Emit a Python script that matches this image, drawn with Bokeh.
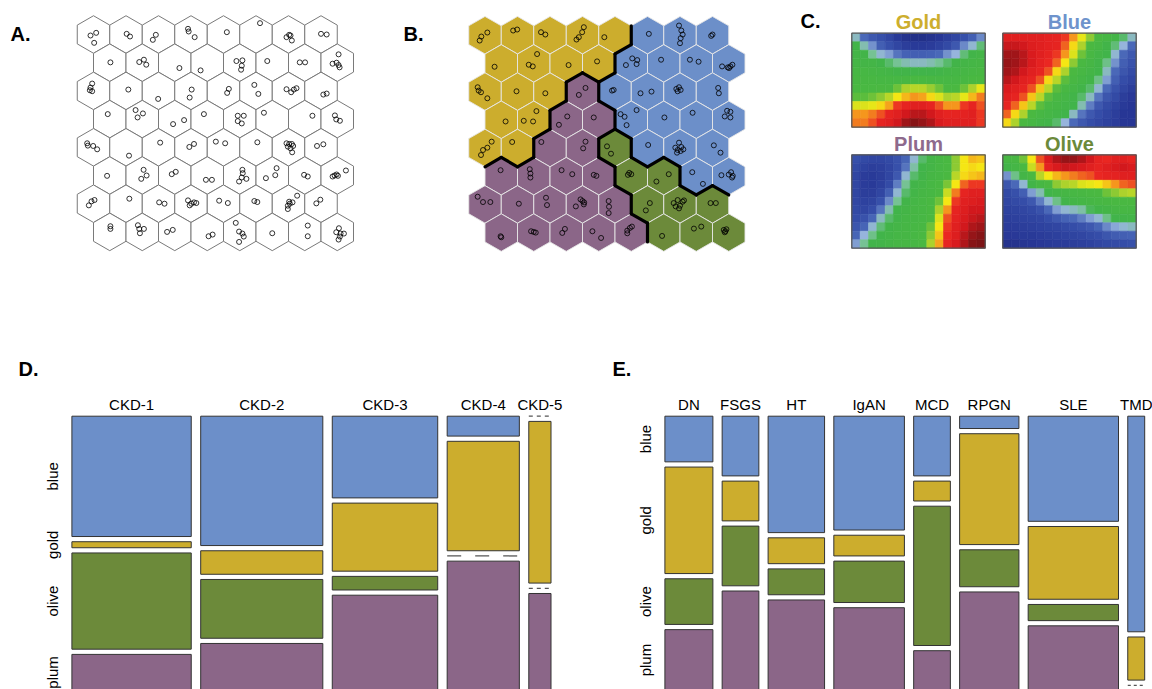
import math
import numpy as np
from bokeh.plotting import figure
from bokeh.models import Range1d, ColumnDataSource
from bokeh.transform import linear_cmap
from bokeh.core.properties import value
from bokeh.embed import file_html
from bokeh.resources import INLINE

FONT = value("Liberation Sans")

# ------------------------------------------------------------------ data
# SOM: 8 x 8 hexagonal grid, rows listed from the top
som_rows = 8
som_cols = 8

# cluster of each SOM unit (panel B); G gold, B blue, P plum, O olive
cluster_rows = [
    "GGGGGBBB",
    "GGGGBBBB",
    "GGGPBBBB",
    "GGPPBBBB",
    "GGPPOBBB",
    "PPPPOOBB",
    "PPPPPOOO",
    "PPPPPOOO",
]

# samples mapped on the SOM: (row, col, dx, dy); dx in 1/97.5 hex width, dy in 1/84.5 row
som_a_points = [
    (0,0,-9,3),(0,0,8,-5),(0,0,2,25),(0,1,2,-2),(0,1,12,6),(0,2,-8,1),(0,2,-17,16),
    (0,3,-9,-17),(0,3,-7,-9),(0,3,11,8),(0,4,10,-7),(0,5,12,-34),
    (0,6,2,1),(0,6,6,3),(0,6,-6,8),(0,6,10,18),(0,7,0,-2),(0,7,17,0),
    (1,0,2,-1),(1,1,-9,-2),(1,1,5,-9),(1,1,12,6),(1,2,14,16),(1,3,-20,23),
    (1,4,-10,-5),(1,4,8,-7),(1,4,6,9),(1,4,4,21),(1,5,-15,-5),(1,6,-15,-1),(1,6,1,-1),
    (1,7,4,-25),(1,7,-14,3),(1,7,-2,0),(1,7,4,7),(1,7,7,14),
    (2,0,-4,-22),(2,0,-9,-10),(2,0,-11,-2),(2,0,-4,1),(2,1,7,-4),(2,2,-1,24),
    (2,3,2,-4),(2,3,-4,20),(2,4,16,-6),(2,4,11,6),(2,5,-5,-18),(2,5,7,9),
    (2,6,-6,-5),(2,6,8,4),(2,6,16,-4),(2,6,24,-8),(2,7,7,11),(2,7,17,8),
    (3,0,-6,-15),(3,1,-20,-27),(3,1,2,-17),(3,1,-14,-5),(3,2,-5,15),(3,2,28,3),
    (3,3,-10,-15),(3,4,-6,-10),(3,4,12,-10),(3,4,-6,6),(3,4,6,13),(3,5,-25,-19),
    (3,6,23,-10),(3,7,-7,-11),(3,7,-3,1),(3,7,8,5),
    (4,0,-19,-12),(4,0,-17,-5),(4,0,-1,-4),(4,0,11,6),(4,1,9,25),(4,2,5,-14),
    (4,3,-5,-1),(4,3,9,-10),(4,4,-23,-17),(4,4,5,-12),(4,5,4,-15),
    (4,6,-6,-12),(4,6,2,-10),(4,6,10,-10),(4,6,-2,-2),(4,6,6,3),(4,6,14,-4),(4,6,11,15),
    (4,7,-12,-4),(4,7,7,-9),
    (5,0,-8,1),(5,1,4,-17),(5,1,13,0),(5,1,-3,10),(5,2,-9,-4),(5,2,3,-11),
    (5,3,-4,13),(5,3,14,13),(5,4,8,-17),(5,4,9,-7),(5,4,6,6),(5,4,-2,18),(5,4,20,10),
    (5,5,13,-22),(5,5,9,-1),(5,5,-19,8),(5,6,-2,-2),(5,6,9,3),
    (5,7,-14,3),(5,7,-8,0),(5,7,-2,-3),(5,7,2,1),(5,7,26,-15),
    (6,0,-6,-7),(6,0,3,-11),(6,0,-14,5),(6,1,10,-15),(6,2,2,-4),(6,2,18,0),
    (6,3,-9,-10),(6,3,1,0),(6,3,9,-4),(6,3,16,-2),(6,3,-4,5),(6,4,-13,-9),(6,4,13,-2),
    (6,5,-5,-8),(6,5,4,-5),(6,6,26,-24),(6,6,12,-4),(6,6,4,0),(6,6,-2,6),(6,6,-2,16),(6,6,2,-6),
    (6,7,-2,-12),(6,7,-14,-1),
    (7,0,2,-17),(7,0,2,-9),(7,1,-13,-20),(7,1,-9,-9),(7,1,5,-9),(7,1,-7,4),
    (7,2,-23,0),(7,2,-6,-6),(7,3,4,13),(7,3,16,8),
    (7,4,-12,-27),(7,4,-2,-1),(7,4,8,5),(7,4,12,14),(7,4,-2,30),(7,5,0,4),
    (7,6,9,-19),(7,6,9,13),(7,7,5,-11),(7,7,-3,1),(7,7,10,5),(7,7,20,5),(7,7,8,14),(7,7,4,23),
]

som_b_points = [
    (0,0,-16,16),(0,0,-11,4),(0,0,7,-8),(0,1,-13,-14),(0,1,-1,-17),(0,2,-27,-9),(0,2,-14,-2),
    (0,3,4,-24),(0,3,-1,-9),(0,3,-11,6),(0,3,-18,13),(0,4,-32,6),(0,5,4,-4),
    (0,6,-3,-29),(0,6,4,-14),(0,6,8,-2),(0,6,2,9),(0,6,0,24),(0,7,0,-2),(0,7,-4,2),
    (1,0,-20,10),(1,1,-15,4),(1,1,-3,9),(1,1,10,-28),(1,2,7,5),(1,3,-5,-6),
    (1,4,-16,5),(1,4,3,-15),(1,4,18,-10),(1,4,16,2),(1,5,-8,-11),(1,6,-19,-11),(1,6,7,-5),
    (1,7,-20,9),(1,7,-3,12),(1,7,5,9),(1,7,11,4),(1,7,1,14),
    (2,0,-22,-13),(2,0,-19,-3),(2,0,-12,2),(2,0,7,20),(2,1,-3,-1),(2,2,-14,5),
    (2,3,-11,10),(2,3,9,-11),(2,4,-9,-3),(2,4,-4,-5),(2,5,-21,5),(2,5,12,0),
    (2,6,-11,-8),(2,6,-3,-13),(2,6,-7,-1),(2,6,2,-5),(2,7,17,-11),(2,7,19,5),
    (3,0,13,5),(3,1,8,-26),(3,1,-30,3),(3,1,-2,5),(3,2,3,-10),(3,2,-22,15),(3,3,-15,-7),
    (3,4,-32,-17),(3,4,-20,-9),(3,4,-14,16),(3,4,16,-29),(3,5,2,-7),(3,6,-11,-21),
    (3,7,-5,-27),(3,7,5,-24),(3,7,-12,-10),(3,7,5,-7),
    (4,0,-12,21),(4,0,-6,6),(4,0,7,-1),(4,0,20,-19),(4,1,-16,-18),(4,2,-26,-18),
    (4,3,9,-19),(4,3,2,1),(4,4,-24,-5),(4,4,-12,17),(4,5,2,-9),
    (4,6,-14,-1),(4,6,-7,6),(4,6,2,9),(4,6,10,4),(4,6,4,-3),(4,6,-9,14),(4,6,-3,-16),
    (4,7,4,-8),(4,7,24,14),
    (5,0,-2,-18),(5,1,-12,-21),(5,1,-10,-8),(5,1,-10,4),(5,2,-14,-18),(5,2,18,-6),
    (5,3,-15,-4),(5,3,-7,-1),(5,4,-6,-10),(5,4,-10,-4),(5,4,0,-6),(5,5,15,-6),(5,5,-22,16),
    (5,6,-12,-12),(5,6,20,23),(5,7,-22,-3),(5,7,0,-5),(5,7,7,-12),(5,7,12,-1),(5,7,10,4),
    (6,0,-22,-23),(6,0,-6,-7),(6,0,16,-7),(6,1,4,-2),(6,2,-12,-20),(6,2,-9,2),
    (6,3,-6,-15),(6,3,0,-10),(6,3,5,-6),(6,3,-20,6),(6,3,4,0),
    (6,4,-19,-10),(6,4,-18,7),(6,4,-19,26),(6,5,7,-4),(6,5,-5,18),
    (6,6,-19,-4),(6,6,-7,-13),(6,6,8,-8),(6,6,0,4),(6,6,-13,6),(6,6,12,-12),(6,6,-3,12),
    (6,7,-6,-4),(6,7,10,-4),
    (7,0,-2,11),(7,0,0,14),(7,1,-8,-4),(7,1,0,-2),(7,1,6,0),(7,2,-4,-11),(7,2,-12,1),
    (7,3,-19,-4),(7,3,7,16),(7,4,-12,-6),(7,4,-4,-14),(7,4,2,-18),(7,4,-12,2),
    (7,5,-5,10),(7,6,-7,-12),(7,6,15,-18),
    (7,7,-15,-8),(7,7,-10,-4),(7,7,-7,-10),(7,7,-12,-1),
]

# component planes (panel C), 11 rows (top first) x 16 columns, scaled 0..1
plane_titles = ["Gold", "Blue", "Plum", "Olive"]
gold_plane = [
    [0.42,0.33,0.28,0.25,0.20,0.14,0.10,0.08,0.08,0.10,0.12,0.16,0.20,0.25,0.30,0.36],
    [0.52,0.43,0.37,0.30,0.25,0.20,0.16,0.14,0.14,0.15,0.18,0.22,0.28,0.36,0.41,0.47],
    [0.55,0.52,0.45,0.41,0.38,0.34,0.31,0.30,0.30,0.31,0.33,0.37,0.40,0.47,0.52,0.55],
    [0.57,0.56,0.55,0.50,0.48,0.45,0.43,0.42,0.42,0.43,0.45,0.48,0.52,0.55,0.57,0.58],
    [0.60,0.60,0.58,0.57,0.55,0.53,0.52,0.50,0.50,0.51,0.52,0.55,0.57,0.58,0.60,0.62],
    [0.62,0.62,0.62,0.61,0.60,0.60,0.62,0.63,0.63,0.62,0.60,0.60,0.60,0.62,0.64,0.66],
    [0.64,0.64,0.64,0.65,0.66,0.68,0.72,0.73,0.73,0.71,0.68,0.66,0.66,0.68,0.72,0.76],
    [0.67,0.67,0.68,0.70,0.73,0.77,0.80,0.82,0.81,0.78,0.75,0.72,0.73,0.76,0.80,0.83],
    [0.75,0.75,0.76,0.78,0.81,0.86,0.88,0.90,0.90,0.88,0.85,0.82,0.82,0.86,0.88,0.85],
    [0.82,0.82,0.83,0.85,0.88,0.90,0.93,0.95,0.95,0.93,0.90,0.88,0.88,0.89,0.90,0.86],
    [0.83,0.83,0.85,0.88,0.90,0.93,0.97,0.99,0.98,0.96,0.92,0.90,0.90,0.90,0.90,0.86],
]
blue_plane = [
    [0.90,0.90,0.90,0.90,0.90,0.89,0.88,0.86,0.82,0.76,0.70,0.65,0.60,0.55,0.48,0.42],
    [0.94,0.94,0.93,0.91,0.90,0.89,0.88,0.84,0.78,0.72,0.66,0.60,0.53,0.47,0.40,0.33],
    [0.97,0.97,0.95,0.92,0.90,0.88,0.86,0.82,0.75,0.68,0.62,0.56,0.50,0.41,0.33,0.28],
    [0.98,0.97,0.95,0.92,0.89,0.87,0.84,0.77,0.70,0.64,0.58,0.53,0.46,0.37,0.30,0.26],
    [0.97,0.96,0.93,0.90,0.88,0.85,0.78,0.72,0.66,0.60,0.55,0.50,0.42,0.33,0.27,0.23],
    [0.95,0.93,0.90,0.88,0.85,0.78,0.73,0.67,0.62,0.57,0.52,0.46,0.38,0.30,0.24,0.20],
    [0.92,0.90,0.88,0.85,0.79,0.73,0.67,0.62,0.57,0.53,0.48,0.41,0.33,0.26,0.20,0.16],
    [0.90,0.88,0.85,0.79,0.73,0.67,0.62,0.57,0.53,0.48,0.42,0.34,0.27,0.22,0.16,0.13],
    [0.88,0.84,0.79,0.73,0.67,0.62,0.58,0.54,0.50,0.43,0.35,0.28,0.23,0.18,0.14,0.12],
    [0.84,0.78,0.72,0.66,0.61,0.57,0.54,0.50,0.42,0.34,0.28,0.24,0.20,0.16,0.12,0.12],
    [0.78,0.72,0.66,0.60,0.56,0.53,0.48,0.40,0.33,0.28,0.24,0.21,0.18,0.15,0.12,0.12],
]
plum_plane = [
    [0.25,0.22,0.20,0.20,0.22,0.26,0.32,0.41,0.48,0.55,0.60,0.64,0.70,0.77,0.80,0.79],
    [0.22,0.18,0.16,0.17,0.20,0.25,0.34,0.44,0.50,0.56,0.60,0.64,0.70,0.77,0.78,0.77],
    [0.20,0.15,0.14,0.16,0.20,0.28,0.41,0.48,0.53,0.58,0.61,0.65,0.73,0.78,0.79,0.80],
    [0.20,0.15,0.14,0.17,0.23,0.35,0.45,0.52,0.56,0.60,0.63,0.69,0.77,0.84,0.86,0.86],
    [0.20,0.16,0.16,0.20,0.30,0.41,0.48,0.54,0.58,0.61,0.66,0.74,0.83,0.88,0.90,0.90],
    [0.21,0.18,0.19,0.25,0.36,0.45,0.52,0.57,0.60,0.63,0.68,0.77,0.86,0.90,0.91,0.92],
    [0.22,0.20,0.24,0.34,0.43,0.50,0.55,0.58,0.60,0.64,0.72,0.82,0.88,0.91,0.93,0.93],
    [0.24,0.26,0.32,0.42,0.48,0.53,0.57,0.59,0.61,0.66,0.75,0.85,0.89,0.92,0.94,0.95],
    [0.27,0.32,0.41,0.47,0.52,0.55,0.58,0.60,0.62,0.68,0.77,0.86,0.90,0.93,0.96,0.97],
    [0.32,0.40,0.46,0.51,0.54,0.57,0.59,0.60,0.63,0.70,0.79,0.87,0.91,0.95,0.98,0.99],
    [0.38,0.45,0.50,0.53,0.56,0.58,0.60,0.61,0.64,0.72,0.81,0.88,0.92,0.96,0.99,1.00],
]
olive_plane = [
    [0.60,0.62,0.68,0.77,0.85,0.92,0.96,0.98,0.98,0.96,0.93,0.88,0.87,0.90,0.90,0.88],
    [0.52,0.57,0.63,0.74,0.82,0.89,0.92,0.94,0.93,0.92,0.90,0.88,0.90,0.92,0.93,0.92],
    [0.37,0.46,0.55,0.64,0.73,0.77,0.80,0.82,0.83,0.84,0.85,0.87,0.88,0.89,0.90,0.90],
    [0.27,0.33,0.41,0.52,0.60,0.66,0.70,0.72,0.73,0.75,0.76,0.77,0.79,0.82,0.84,0.85],
    [0.22,0.25,0.30,0.38,0.43,0.50,0.55,0.58,0.60,0.62,0.63,0.66,0.68,0.70,0.72,0.73],
    [0.20,0.22,0.24,0.28,0.35,0.41,0.46,0.52,0.55,0.57,0.58,0.60,0.62,0.63,0.64,0.66],
    [0.18,0.19,0.20,0.22,0.26,0.33,0.38,0.41,0.42,0.44,0.49,0.53,0.56,0.58,0.60,0.60],
    [0.16,0.17,0.18,0.19,0.20,0.24,0.28,0.31,0.33,0.35,0.38,0.41,0.46,0.50,0.53,0.54],
    [0.15,0.15,0.16,0.17,0.18,0.19,0.20,0.22,0.24,0.26,0.28,0.32,0.36,0.39,0.41,0.42],
    [0.13,0.13,0.14,0.14,0.15,0.16,0.17,0.18,0.19,0.20,0.22,0.24,0.27,0.29,0.30,0.31],
    [0.10,0.10,0.11,0.12,0.13,0.14,0.15,0.15,0.16,0.17,0.18,0.20,0.22,0.23,0.24,0.25],
]

# mosaic D: CKD stage x cluster (counts)
ckd_stages = ["CKD-1", "CKD-2", "CKD-3", "CKD-4", "CKD-5"]
ckd_blue = [20, 22, 12, 2, 0]
ckd_gold = [1, 4, 10, 11, 5]
ckd_olive = [16, 10, 2, 0, 0]
ckd_plum = [6, 8, 14, 13, 3]

# mosaic E: diagnosis x cluster (counts)
diagnoses = ["DN", "FSGS", "HT", "IgAN", "MCD", "RPGN", "SLE", "TMD"]
dx_blue = [3, 3, 9, 11, 3, 1, 13, 5]
dx_gold = [7, 2, 2, 2, 1, 9, 9, 1]
dx_olive = [3, 3, 2, 4, 7, 3, 2, 0]
dx_plum = [4, 5, 7, 8, 2, 8, 8, 0]

cluster_names = ["blue", "gold", "olive", "plum"]

# ------------------------------------------------------------------ styles
COL = {"blue": "#6C8FC9", "gold": "#CCAD2D", "olive": "#6C8A3A", "plum": "#8B6688"}
CODE = {"B": "blue", "G": "gold", "O": "olive", "P": "plum"}
TITLE_COL = {"Gold": "#CDAE2D", "Blue": "#6E93CC", "Plum": "#8E6A8C", "Olive": "#6C8A3A"}

anchors = [
    (0.00, (25, 35, 110)), (0.12, (40, 55, 150)), (0.25, (55, 80, 170)),
    (0.33, (75, 105, 185)), (0.40, (150, 180, 220)), (0.45, (120, 195, 150)),
    (0.50, (65, 180, 75)), (0.66, (75, 185, 65)), (0.72, (170, 210, 45)),
    (0.77, (245, 235, 20)), (0.82, (245, 150, 30)), (0.87, (235, 40, 35)),
    (0.93, (215, 25, 30)), (1.00, (125, 20, 22)),
]
pos = np.linspace(0, 1, 256)
ap = [a[0] for a in anchors]
chans = [np.interp(pos, ap, [a[1][k] for a in anchors]) for k in range(3)]
PALETTE = ["#%02x%02x%02x" % (int(r), int(g), int(b)) for r, g, b in zip(*chans)]

# ------------------------------------------------------------------ figure
W, H = 1152, 689
p = figure(width=W, height=H, x_range=Range1d(0, W), y_range=Range1d(H, 0),
           output_backend="svg", toolbar_location=None,
           x_axis_location=None, y_axis_location=None, min_border=0)
p.grid.visible = False
p.outline_line_color = None
p.background_fill_color = "white"

HEX_W = 32.5
HEX_R = HEX_W / math.sqrt(3)
ROW_SP = 28.2


def hex_center(x0, y0, r, c):
    return x0 + HEX_W * (c + 0.5 * (r % 2)), y0 + ROW_SP * r


def hex_grid(x0, y0, fills, line_color, line_width):
    xs, ys = [], []
    for r in range(som_rows):
        for c in range(som_cols):
            cx, cy = hex_center(x0, y0, r, c)
            xs.append([cx, cx + HEX_W / 2, cx + HEX_W / 2, cx, cx - HEX_W / 2, cx - HEX_W / 2])
            ys.append([cy - HEX_R, cy - HEX_R / 2, cy + HEX_R / 2, cy + HEX_R, cy + HEX_R / 2, cy - HEX_R / 2])
    p.patches(xs=xs, ys=ys, fill_color=fills, line_color=line_color, line_width=line_width)


def som_points(x0, y0, pts):
    xs = [hex_center(x0, y0, r, c)[0] + dx * HEX_W / 97.5 for r, c, dx, dy in pts]
    ys = [hex_center(x0, y0, r, c)[1] + dy * ROW_SP / 84.5 for r, c, dx, dy in pts]
    p.scatter(xs, ys, marker="circle", size=5, fill_color=None, line_color="black", line_width=0.8)


def label(x, y, t, size, color="black", bold=False, align="left", angle=0.0):
    # y is the vertical centre of the text
    p.text(x=[x], y=[y], text=[t], text_font=FONT, text_font_size=size,
           text_font_style="bold" if bold else "normal", text_color=color,
           text_align=align, text_baseline="middle", angle=angle)


# ---- panel A
A_X0, A_Y0 = 93.0, 34.0
hex_grid(A_X0, A_Y0, ["white"] * (som_rows * som_cols), "#7a7a7a", 1.0)
som_points(A_X0, A_Y0, som_a_points)
label(10, 33.5, "A.", "20px", bold=True)

# ---- panel B
B_X0, B_Y0 = 484.5, 34.7
fills = [COL[CODE[ch]] for row in cluster_rows for ch in row]
hex_grid(B_X0, B_Y0, fills, "#e6e6e6", 0.9)
som_points(B_X0, B_Y0, som_b_points)
ex0, ey0, ex1, ey1 = [], [], [], []
for r in range(som_rows):
    for c in range(som_cols):
        cx, cy = hex_center(B_X0, B_Y0, r, c)
        k = cluster_rows[r][c]
        if c + 1 < som_cols and cluster_rows[r][c + 1] != k:
            ex0.append(cx + HEX_W / 2); ey0.append(cy - HEX_R / 2)
            ex1.append(cx + HEX_W / 2); ey1.append(cy + HEX_R / 2)
        if r + 1 < som_rows:
            dl, dr = (c - 1, c) if r % 2 == 0 else (c, c + 1)
            if 0 <= dr < som_cols and cluster_rows[r + 1][dr] != k:
                ex0.append(cx + HEX_W / 2); ey0.append(cy + HEX_R / 2)
                ex1.append(cx); ey1.append(cy + HEX_R)
            if 0 <= dl < som_cols and cluster_rows[r + 1][dl] != k:
                ex0.append(cx); ey0.append(cy + HEX_R)
                ex1.append(cx - HEX_W / 2); ey1.append(cy + HEX_R / 2)
p.segment(x0=ex0, y0=ey0, x1=ex1, y1=ey1, line_color="black", line_width=3.2, line_cap="round")
label(403, 33.5, "B.", "20px", bold=True)

# ---- panel C
label(800, 20, "C.", "20px", bold=True)
planes = [gold_plane, blue_plane, plum_plane, olive_plane]
boxes = [(851.3, 984.7, 32.7, 126.7), (1002.3, 1135.7, 32.7, 126.7),
         (851.3, 984.7, 154.3, 247.7), (1002.3, 1135.7, 154.3, 247.7)]
title_mid = [21.7, 21.7, 143.3, 143.3]
for plane, (l, rgt, t, b), name, tm in zip(planes, boxes, plane_titles, title_mid):
    arr = np.array(plane)
    nr, nc = arr.shape
    cw, ch = (rgt - l) / nc, (b - t) / nr
    src = ColumnDataSource(dict(
        left=[l + j * cw for i in range(nr) for j in range(nc)],
        right=[l + (j + 1) * cw for i in range(nr) for j in range(nc)],
        top=[t + i * ch for i in range(nr) for j in range(nc)],
        bottom=[t + (i + 1) * ch for i in range(nr) for j in range(nc)],
        v=[arr[i, j] for i in range(nr) for j in range(nc)],
    ))
    cmap = linear_cmap("v", PALETTE, 0, 1)
    p.quad(left="left", right="right", top="top", bottom="bottom", source=src,
           fill_color=cmap, line_color=cmap, line_width=0.6)
    p.quad(left=[l], right=[rgt], top=[t], bottom=[b], fill_color=None,
           line_color="#555555", line_width=1.3)
    label((l + rgt) / 2, tm, name, "20px", color=TITLE_COL[name], bold=True, align="center")


# ---- mosaics
def mosaic(cols, counts, L, R, T, B, gx, gy, ylab_x):
    totals = [sum(cnt[i] for cnt in counts) for i in range(len(cols))]
    N = sum(totals)
    avail_w = R - L - gx * (len(cols) - 1)
    avail_h = B - T - gy * (len(counts) - 1)
    x = L
    for i, name in enumerate(cols):
        w = avail_w * totals[i] / N
        y = T
        dash = "%d %d" % (round(w / 5), round(w / 5))
        for j, cname in enumerate(cluster_names):
            h = avail_h * counts[j][i] / totals[i]
            if counts[j][i] > 0:
                p.quad(left=[x], right=[x + w], top=[y], bottom=[y + h],
                       fill_color=COL[cname], line_color="#333333", line_width=1.0)
            else:
                p.segment(x0=[x], y0=[y], x1=[x + w], y1=[y], line_color="#555555",
                          line_width=1.3, line_dash=dash)
            if i == 0:
                label(ylab_x, y + h / 2, cname, "15px", align="center", angle=math.pi / 2)
            y += h + gy
        label(x + w / 2, 403.8, name, "15px", align="center")
        x += w + gx


mosaic(ckd_stages, [ckd_blue, ckd_gold, ckd_olive, ckd_plum],
       71.4, 550.5, 415.7, 690.0, 9.45, 5.2, 52.0)
label(18, 368.5, "D.", "20px", bold=True)
mosaic(diagnoses, [dx_blue, dx_gold, dx_olive, dx_plum],
       664.4, 1144.2, 415.7, 690.0, 9.25, 5.2, 645.0)
label(612, 368.5, "E.", "20px", bold=True)

open("out.html", "w").write(file_html(p, INLINE))
